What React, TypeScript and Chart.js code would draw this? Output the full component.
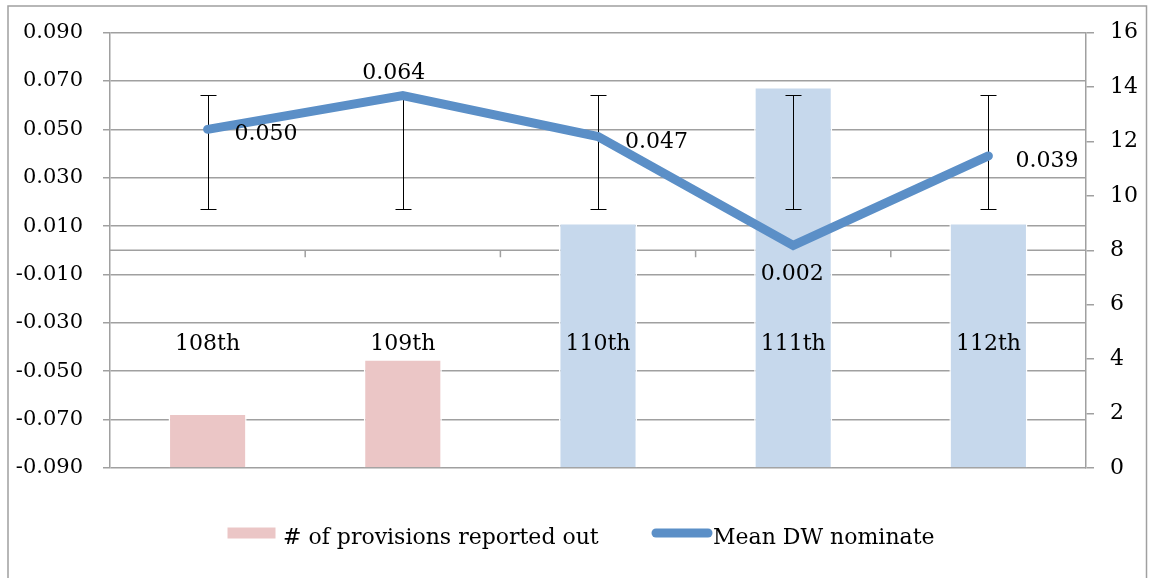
import React, { useEffect, useRef } from "react";
import { Chart, registerables } from "chart.js";

Chart.register(...registerables);

const categories = ["108th", "109th", "110th", "111th", "112th"];
const provisions = [2, 4, 9, 14, 9];
const barColors = ["#ebc6c6", "#ebc6c6", "#c6d8ec", "#c6d8ec", "#c6d8ec"];
const meanDW = [0.05, 0.064, 0.047, 0.002, 0.039];
const errLow = [0.017, 0.017, 0.017, 0.017, 0.017];
const errHigh = [0.064, 0.064, 0.064, 0.064, 0.064];
const seriesNames = ["# of provisions reported out", "Mean DW nominate"];

const FONT = "'DejaVu Serif', serif";
const GRID = "#a0a0a0";
const LINE = "#5b8fc7";

const overlay = {
  id: "overlay",
  beforeDraw(chart: any) {
    const ctx = chart.ctx;
    ctx.save();
    ctx.fillStyle = "#ffffff";
    ctx.fillRect(0, 0, chart.width, chart.height);
    ctx.strokeStyle = GRID;
    ctx.lineWidth = 1.5;
    ctx.strokeRect(8, 6, 1138.5, 620);
    ctx.restore();
  },
  beforeDatasetsDraw(chart: any) {
    const ctx = chart.ctx;
    const x = chart.scales.x;
    const y = chart.scales.y;
    const area = chart.chartArea;
    const zy = y.getPixelForValue(0);
    ctx.save();
    ctx.strokeStyle = GRID;
    ctx.lineWidth = 1.5;
    ctx.beginPath();
    ctx.moveTo(area.left, zy);
    ctx.lineTo(area.right, zy);
    for (let i = 0; i < categories.length - 1; i++) {
      const bx = (x.getPixelForValue(i) + x.getPixelForValue(i + 1)) / 2;
      ctx.moveTo(bx, zy);
      ctx.lineTo(bx, zy + 7);
    }
    ctx.stroke();
    ctx.restore();
  },
  afterDatasetDraw(chart: any, args: any) {
    if (args.index !== 0) return;
    const ctx = chart.ctx;
    const x = chart.scales.x;
    const y = chart.scales.y;
    ctx.save();
    ctx.strokeStyle = "#000000";
    ctx.lineWidth = 1;
    ctx.beginPath();
    for (let i = 0; i < meanDW.length; i++) {
      const px = Math.round(x.getPixelForValue(i)) + 0.5;
      const top = Math.round(y.getPixelForValue(errHigh[i])) + 0.5;
      const bot = Math.round(y.getPixelForValue(errLow[i])) + 0.5;
      ctx.moveTo(px, top);
      ctx.lineTo(px, bot);
      ctx.moveTo(px - 8, top);
      ctx.lineTo(px + 8, top);
      ctx.moveTo(px - 8, bot);
      ctx.lineTo(px + 8, bot);
    }
    ctx.stroke();
    ctx.restore();
  },
  afterDatasetsDraw(chart: any) {
    const ctx = chart.ctx;
    const x = chart.scales.x;
    const y = chart.scales.y;
    const zy = y.getPixelForValue(0);
    ctx.save();
    ctx.fillStyle = "#000000";
    ctx.font = `22px ${FONT}`;
    // category labels
    ctx.textAlign = "center";
    ctx.textBaseline = "alphabetic";
    categories.forEach((c, i) => {
      ctx.fillText(c, x.getPixelForValue(i), zy + 100);
    });
    // data labels
    meanDW.forEach((v, i) => {
      const px = x.getPixelForValue(i);
      const py = y.getPixelForValue(v);
      const prev = i > 0 ? meanDW[i - 1] : undefined;
      const next = i < meanDW.length - 1 ? meanDW[i + 1] : undefined;
      const txt = v.toFixed(3);
      if (prev !== undefined && next !== undefined && v > prev && v > next) {
        ctx.textAlign = "center";
        ctx.fillText(txt, px - 9, py - 16);
      } else if (prev !== undefined && next !== undefined && v < prev && v < next) {
        ctx.textAlign = "center";
        ctx.fillText(txt, px - 1, py + 35);
      } else {
        ctx.textAlign = "left";
        ctx.fillText(txt, px + 27, py + 11);
      }
    });
    // legend
    ctx.textAlign = "left";
    ctx.fillStyle = barColors[0];
    ctx.fillRect(227, 527, 49, 12);
    ctx.strokeStyle = "#ffffff";
    ctx.lineWidth = 1;
    ctx.strokeRect(227, 527, 49, 12);
    ctx.fillStyle = "#000000";
    ctx.fillText(seriesNames[0], 283, 544);
    ctx.strokeStyle = LINE;
    ctx.lineWidth = 9;
    ctx.lineCap = "round";
    ctx.beginPath();
    ctx.moveTo(656, 533);
    ctx.lineTo(708, 533);
    ctx.stroke();
    ctx.fillText(seriesNames[1], 713, 544);
    ctx.restore();
  },
};

export default function App() {
  const ref = useRef<HTMLCanvasElement | null>(null);
  useEffect(() => {
    if (!ref.current) return;
    Chart.defaults.font.family = FONT;
    const chart = new Chart(ref.current, {
      type: "bar",
      data: {
        labels: categories,
        datasets: [
          {
            type: "bar",
            label: seriesNames[0],
            data: provisions,
            backgroundColor: barColors,
            borderColor: "#ffffff",
            borderWidth: 1.5,
            yAxisID: "y1",
            order: 1,
            categoryPercentage: 1,
            barPercentage: 0.4,
          } as any,
          {
            type: "line",
            label: seriesNames[1],
            data: meanDW,
            borderColor: LINE,
            backgroundColor: LINE,
            borderWidth: 9,
            borderCapStyle: "round",
            borderJoinStyle: "miter",
            pointRadius: 0,
            tension: 0,
            yAxisID: "y",
            order: 0,
          } as any,
        ],
      },
      options: {
        responsive: false,
        animation: false,
        layout: { padding: { left: 0, right: 0, top: 32, bottom: 110 } },
        plugins: {
          legend: { display: false },
          tooltip: { enabled: false },
        },
        scales: {
          x: {
            type: "category",
            display: false,
            offset: true,
          },
          y: {
            type: "linear",
            position: "left",
            min: -0.09,
            max: 0.09,
            ticks: {
              stepSize: 0.02,
              padding: 20,
              color: "#000000",
              font: { family: FONT, size: 21 },
              callback: (v: any) => Number(v).toFixed(3),
            },
            grid: { color: GRID, lineWidth: 1.5, tickLength: 7, drawTicks: true },
            border: { color: GRID, width: 1.5 },
            afterFit: (s: any) => {
              s.width = 110;
            },
          },
          y1: {
            type: "linear",
            position: "right",
            min: 0,
            max: 16,
            ticks: {
              stepSize: 2,
              padding: 16,
              color: "#000000",
              font: { family: FONT, size: 22 },
            },
            grid: { color: GRID, lineWidth: 1.5, tickLength: 8, drawOnChartArea: false, drawTicks: true },
            border: { color: GRID, width: 1.5 },
            afterFit: (s: any) => {
              s.width = 63;
            },
          },
        },
      },
      plugins: [overlay],
    });
    return () => chart.destroy();
  }, []);
  return (
    <div style={{ position: "absolute", left: 0, top: 0, width: 1149, height: 578, background: "#fff" }}>
      <canvas ref={ref} width={1149} height={578} style={{ display: "block" }} />
    </div>
  );
}
